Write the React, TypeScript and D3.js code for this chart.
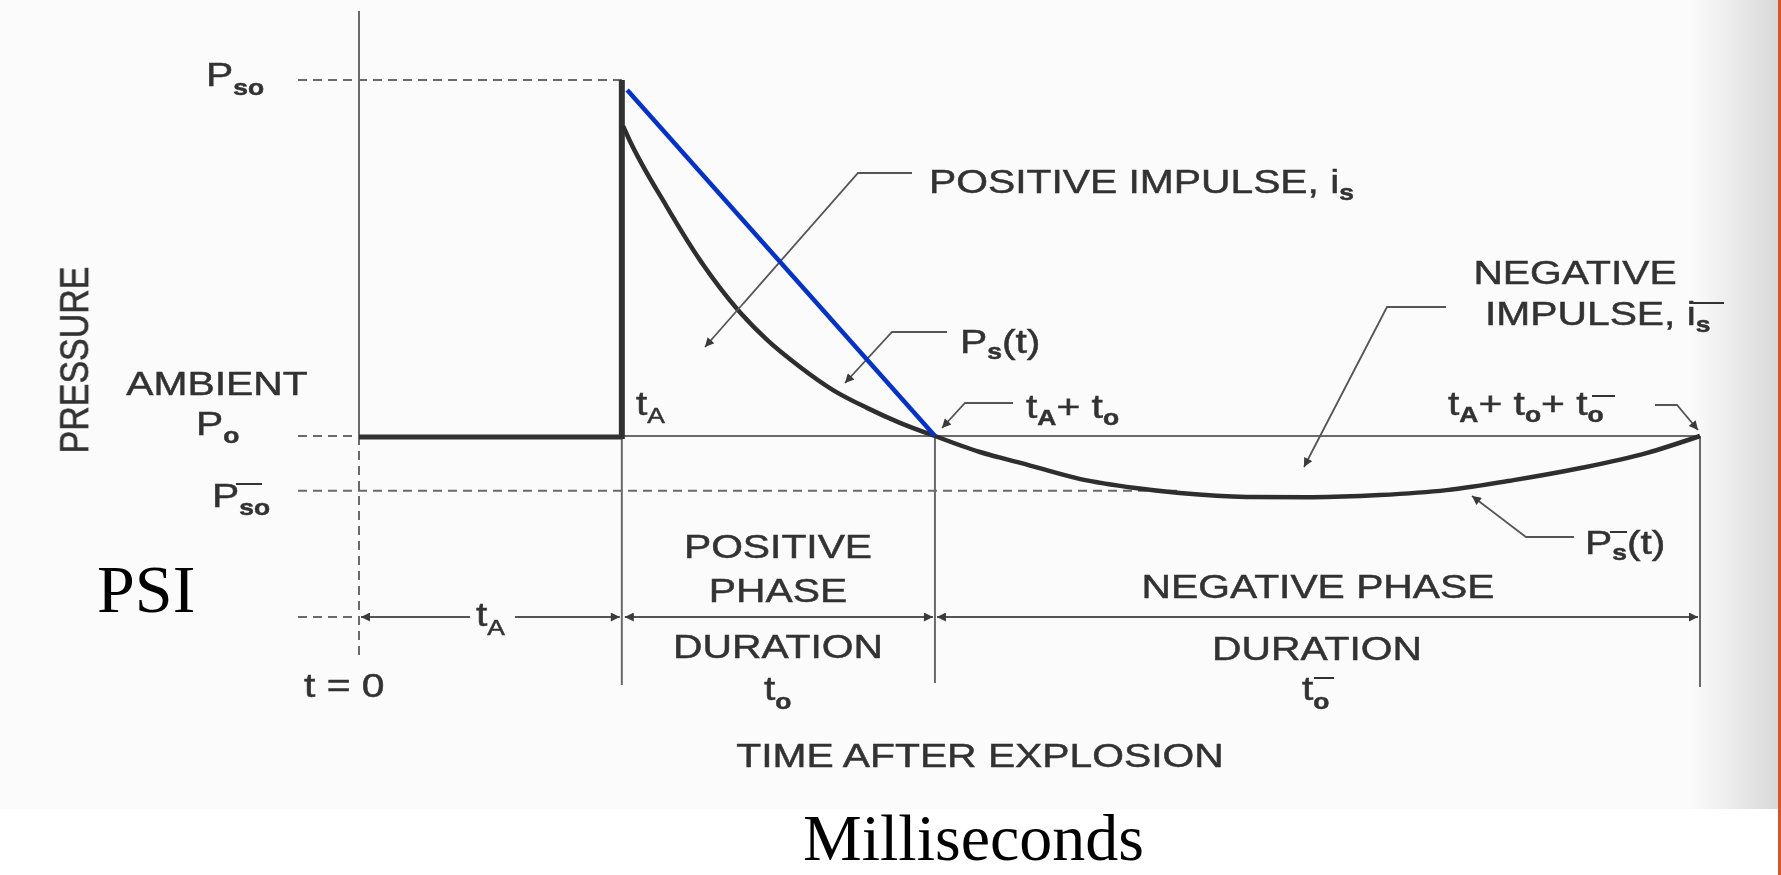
import React from 'react';
import * as d3 from 'd3';

// time axis runs 0..100 (t = 0 .. tA + to + to-), pressure: ambient = 0, peak = 1
const phaseTimes = [0, 19.6, 42.95, 100]; // t=0, tA, tA+to, tA+to+to-
const pressureLevels = [1, 0, -0.154]; // Pso, Po, P-so

const positiveTimes = [19.7, 20.06, 22.97, 25.43, 28.26, 30.43, 32.89, 35.35, 37.88, 40.34, 42.95];
const positivePressure = [0.87, 0.84, 0.643, 0.494, 0.354, 0.27, 0.194, 0.129, 0.079, 0.037, 0];

const negativeTimes = [42.95, 46.3, 49.4, 53.8, 57.9, 61.2, 66.2, 71.1, 76.1, 81.1, 86.1, 91.1, 96.0, 100];
const negativePressure = [0, -0.045, -0.076, -0.121, -0.146, -0.16, -0.171, -0.172, -0.166, -0.152, -0.124, -0.09, -0.048, 0];

const linearTimes = [20.0, 42.95];
const linearPressure = [0.972, 0];

const W = 1781;
const H = 875;
const SANS = '"Liberation Sans", Arial, sans-serif';
const SERIF = '"Liberation Serif", "Times New Roman", serif';
const INK = '#333';
const GREY = '#6a6a6a';

const Label = ({ x, y, anchor = 'start', size = 34, children }: any) => (
  <text
    transform={`translate(${x},${y}) scale(1.2,1)`}
    textAnchor={anchor}
    fontFamily={SANS}
    fontSize={size}
    fill={INK}
    stroke={INK}
    strokeWidth={0.5}
  >
    {children}
  </text>
);

const Sub = ({ dy = 8, children }: any) => (
  <tspan dy={dy} fontSize={22} fontWeight="bold">{children}</tspan>
);

export default function App() {
  const x = d3.scaleLinear().domain([0, 100]).range([359, 1700]);
  const y = d3.scaleLinear().domain([0, 1]).range([436, 80]);

  const [t0, tA, tPos, tEnd] = phaseTimes;
  const [pPeak, pAmb, pNeg] = pressureLevels;

  const line = d3.line<[number, number]>()
    .x(d => x(d[0]))
    .y(d => y(d[1]))
    .curve(d3.curveMonotoneX);
  const straight = d3.line<[number, number]>().x(d => x(d[0])).y(d => y(d[1]));

  const posPath = line(positiveTimes.map((t, i) => [t, positivePressure[i]] as [number, number]));
  const negPath = line(negativeTimes.map((t, i) => [t, negativePressure[i]] as [number, number]));
  const bluePath = straight(linearTimes.map((t, i) => [t, linearPressure[i]] as [number, number]));

  const dimY = 617;
  const leftX = 298;

  const leaders: [number, number][][] = [
    [[912, 173], [858, 173], [705, 347]],
    [[947, 332], [892, 332], [845, 383]],
    [[1013, 403], [965, 403], [942, 428]],
    [[1446, 307], [1387, 307], [1304, 467]],
    [[1655, 405], [1677, 405], [1698, 430]],
    [[1574, 537], [1526, 537], [1472, 496]],
  ];

  return (
    <svg width={W} height={H} style={{ position: 'absolute', left: 0, top: 0 }}>
      <defs>
        <linearGradient id="shade" x1="0" x2="1" y1="0" y2="0">
          <stop offset="0" stopColor="#dcdcdc" stopOpacity="0" />
          <stop offset="1" stopColor="#d8d8d8" stopOpacity="1" />
        </linearGradient>
        <marker id="arr" viewBox="0 0 10 10" refX="10" refY="5" markerWidth="12" markerHeight="9"
          markerUnits="userSpaceOnUse" orient="auto-start-reverse">
          <path d="M0,0 L10,5 L0,10 z" fill="#3a3a3a" />
        </marker>
        <filter id="soft">
          <feGaussianBlur stdDeviation="0.5" />
        </filter>
      </defs>

      <rect x={0} y={0} width={W} height={H} fill="#fff" />
      <rect x={0} y={0} width={1778} height={809} fill="#fbfbfb" />
      <rect x={1690} y={0} width={88} height={809} fill="url(#shade)" />
      <rect x={1778} y={0} width={3} height={H} fill="#d4572a" />

      <g filter="url(#soft)">
        {/* reference lines */}
        <line x1={x(t0)} x2={x(t0)} y1={11} y2={y(pAmb)} stroke={GREY} strokeWidth={2} />
        <line x1={x(t0)} x2={x(t0)} y1={y(pAmb)} y2={657} stroke={GREY} strokeWidth={2} strokeDasharray="9,6" />
        <line x1={leftX} x2={x(tA)} y1={y(pPeak)} y2={y(pPeak)} stroke={GREY} strokeWidth={2} strokeDasharray="9,6" />
        <line x1={leftX} x2={x(t0)} y1={y(pAmb)} y2={y(pAmb)} stroke={GREY} strokeWidth={2} strokeDasharray="9,6" />
        <line x1={leftX} x2={x(61)} y1={y(pNeg)} y2={y(pNeg)} stroke={GREY} strokeWidth={2} strokeDasharray="9,6" />
        <line x1={x(tA)} x2={x(tEnd)} y1={y(pAmb)} y2={y(pAmb)} stroke={GREY} strokeWidth={2} />
        <line x1={x(tA)} x2={x(tA)} y1={y(pAmb)} y2={685} stroke={GREY} strokeWidth={2} />
        <line x1={x(tPos)} x2={x(tPos)} y1={y(pAmb)} y2={683} stroke={GREY} strokeWidth={2} />
        <line x1={x(tEnd)} x2={x(tEnd)} y1={y(pAmb)} y2={687} stroke={GREY} strokeWidth={2} />

        {/* dimension arrows */}
        <line x1={leftX} x2={x(t0)} y1={dimY} y2={dimY} stroke={GREY} strokeWidth={2} strokeDasharray="9,6" />
        <line x1={470} x2={x(t0) + 2} y1={dimY} y2={dimY} stroke="#555" strokeWidth={2} markerEnd="url(#arr)" />
        <line x1={515} x2={x(tA) - 2} y1={dimY} y2={dimY} stroke="#555" strokeWidth={2} markerEnd="url(#arr)" />
        <line x1={x(tA) + 3} x2={x(tPos) - 2} y1={dimY} y2={dimY} stroke="#555" strokeWidth={2}
          markerStart="url(#arr)" markerEnd="url(#arr)" />
        <line x1={x(tPos) + 2} x2={x(tEnd) - 2} y1={dimY} y2={dimY} stroke="#555" strokeWidth={2}
          markerStart="url(#arr)" markerEnd="url(#arr)" />

        {/* pressure history */}
        <line x1={x(t0)} x2={x(tA)} y1={y(pAmb) + 1} y2={y(pAmb) + 1} stroke="#333" strokeWidth={5} />
        <line x1={x(tA)} x2={x(tA)} y1={y(pAmb) + 3} y2={y(pPeak)} stroke="#333" strokeWidth={6} />
        <path d={posPath || ''} fill="none" stroke="#2e2e2e" strokeWidth={4.5} />
        <path d={negPath || ''} fill="none" stroke="#2e2e2e" strokeWidth={4.5} />

        {/* leaders */}
        {leaders.map((pts, i) => (
          <polyline key={i} points={pts.map(p => p.join(',')).join(' ')} fill="none"
            stroke="#555" strokeWidth={1.8} markerEnd="url(#arr)" />
        ))}

        {/* overbars */}
        <line x1={236} x2={262} y1={484} y2={484} stroke={INK} strokeWidth={2} />
        <line x1={1690} x2={1724} y1={303} y2={303} stroke={INK} strokeWidth={2} />
        <line x1={1592} x2={1615} y1={396} y2={396} stroke={INK} strokeWidth={2} />
        <line x1={1610} x2={1627} y1={532} y2={532} stroke={INK} strokeWidth={2} />
        <line x1={1314} x2={1334} y1={678} y2={678} stroke={INK} strokeWidth={2} />

        {/* labels */}
        <text transform="translate(88,360) scale(1.2,1) rotate(-90)" textAnchor="middle"
          fontFamily={SANS} fontSize={34} fill={INK} stroke={INK} strokeWidth={0.5}>PRESSURE</text>
        <Label x={206} y={86}>P<Sub dy={9}>so</Sub></Label>
        <Label x={217} y={395} anchor="middle">AMBIENT</Label>
        <Label x={196} y={435}>P<Sub dy={8}>o</Sub></Label>
        <Label x={212} y={507}>P<Sub dy={8}>so</Sub></Label>
        <Label x={636} y={415}>t<tspan dy={8} fontSize={22}>A</tspan></Label>
        <Label x={929} y={193}>POSITIVE IMPULSE, i<Sub dy={7}>s</Sub></Label>
        <Label x={960} y={353}>P<Sub dy={6}>s</Sub><tspan dy={-6}>(t)</tspan></Label>
        <Label x={1026} y={418}>t<Sub dy={7}>A</Sub><tspan dy={-7}>+ t</tspan><Sub dy={7}>o</Sub></Label>
        <Label x={1575} y={284} anchor="middle">NEGATIVE</Label>
        <Label x={1485} y={325}>IMPULSE, i<Sub dy={7}>s</Sub></Label>
        <Label x={1448} y={415}>
          t<Sub dy={7}>A</Sub><tspan dy={-7}>+ t</tspan><Sub dy={7}>o</Sub><tspan dy={-7}>+ t</tspan><Sub dy={7}>o</Sub>
        </Label>
        <Label x={1585} y={554}>P<Sub dy={6}>s</Sub><tspan dy={-6}>(t)</tspan></Label>
        <Label x={778} y={558} anchor="middle">POSITIVE</Label>
        <Label x={778} y={602} anchor="middle">PHASE</Label>
        <Label x={1318} y={598} anchor="middle">NEGATIVE PHASE</Label>
        <Label x={778} y={658} anchor="middle">DURATION</Label>
        <Label x={1317} y={660} anchor="middle">DURATION</Label>
        <Label x={764} y={700}>t<Sub dy={9}>o</Sub></Label>
        <Label x={1302} y={700}>t<Sub dy={9}>o</Sub></Label>
        <Label x={476} y={626}>t<tspan dy={9} fontSize={22}>A</tspan></Label>
        <Label x={304} y={697}>t = 0</Label>
        <Label x={980} y={767} anchor="middle">TIME AFTER EXPLOSION</Label>
      </g>

      <path d={bluePath || ''} fill="none" stroke="#0432c6" strokeWidth={4.5} />

      <text x={97} y={612} fontFamily={SERIF} fontSize={68} fill="#000">PSI</text>
      <text x={803} y={860} fontFamily={SERIF} fontSize={66} fill="#000">Milliseconds</text>
    </svg>
  );
}
